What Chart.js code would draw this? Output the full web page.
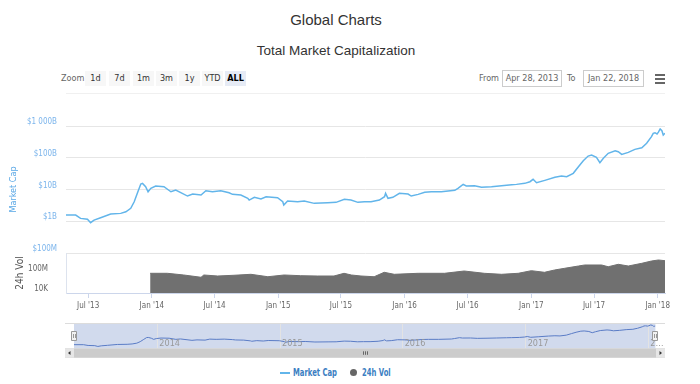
<!DOCTYPE html>
<html>
<head>
<meta charset="utf-8">
<script src="https://cdn.jsdelivr.net/npm/chart.js@4.4.1/dist/chart.umd.min.js"></script>
<style>
body { margin: 0; width: 700px; height: 384px; background: #fff; position: relative; overflow: hidden;
       font-family: "Liberation Sans", Arial, sans-serif; }
.abs { position: absolute; }
.narrow { font-family: "Liberation Sans Narrow", "DejaVu Sans Condensed", sans-serif; }
#title { left: 0; width: 672px; top: 11px; text-align: center; font-size: 15px; color: #333; }
#subtitle { left: 0; width: 672px; top: 43px; text-align: center; font-size: 13.5px; color: #333; }
.lbl { top: 72px; font-size: 9px; color: #666; line-height: 13px; }
.btn { top: 71px; width: 21px; height: 15px; line-height: 15px; background: #f7f7f7; text-align: center;
       font-size: 9px; color: #333; }
.btn.on { background: #e6ebf5; font-weight: bold; color: #000; }
.inp { top: 70px; height: 15px; line-height: 15px; border: 1px solid #ccc; font-size: 9px; color: #666;
       text-align: center; }
#ham { left: 655px; top: 74px; width: 10px; }
#ham div { height: 2px; background: #666; margin-bottom: 2px; }
#sep { left: 66px; top: 93px; width: 599px; height: 1px; background: #f0f0f0; }
#legend { top: 365px; left: 0; width: 700px; height: 16px; font-size: 10px; font-weight: bold; color: #3b7ec2; }
#legend .txt { transform: scaleX(0.76); transform-origin: 0 0; white-space: nowrap; }
</style>
</head>
<body>
<div id="title" class="abs">Global Charts</div>
<div id="subtitle" class="abs">Total Market Capitalization</div>

<div class="abs lbl narrow" style="left:61px">Zoom</div>
<div class="abs btn narrow" style="left:85px">1d</div>
<div class="abs btn narrow" style="left:109px">7d</div>
<div class="abs btn narrow" style="left:133px">1m</div>
<div class="abs btn narrow" style="left:156px">3m</div>
<div class="abs btn narrow" style="left:179px">1y</div>
<div class="abs btn narrow" style="left:202px">YTD</div>
<div class="abs btn narrow on" style="left:225px">ALL</div>

<div class="abs lbl narrow" style="left:479px">From</div>
<div class="abs inp narrow" style="left:502px;width:58px">Apr 28, 2013</div>
<div class="abs lbl narrow" style="left:567px">To</div>
<div class="abs inp narrow" style="left:583px;width:59px">Jan 22, 2018</div>
<div id="ham" class="abs"><div></div><div></div><div></div></div>
<div id="sep" class="abs"></div>

<div class="abs" style="left:0;top:100px;width:700px;height:215px"><canvas id="mainChart" width="700" height="215"></canvas></div>
<div class="abs" style="left:0;top:320px;width:700px;height:40px"><canvas id="navChart" width="700" height="40"></canvas></div>

<div id="legend" class="abs narrow">
  <div class="abs" style="left:280px;top:7px;width:10px;height:2px;background:#62b5ea"></div>
  <div class="abs txt" style="left:293px;top:2px">Market Cap</div>
  <div class="abs" style="left:350px;top:4px;width:7px;height:7px;border-radius:50%;background:#666"></div>
  <div class="abs txt" style="left:362px;top:2px">24h Vol</div>
</div>

<script>
// Total market cap, billions USD
var mcapDates = ['2013-04-28', '2013-05-26', '2013-06-09', '2013-06-29', '2013-07-08', '2013-07-18', '2013-08-06',
    '2013-09-04', '2013-10-03', '2013-10-18', '2013-11-01', '2013-11-11', '2013-11-20', '2013-11-30', '2013-12-05',
    '2013-12-14', '2013-12-21', '2013-12-29', '2014-01-12', '2014-02-05', '2014-02-25', '2014-03-11', '2014-04-14',
    '2014-04-29', '2014-05-23', '2014-06-06', '2014-06-25', '2014-07-19', '2014-08-12', '2014-08-22', '2014-09-15',
    '2014-10-05', '2014-10-09', '2014-10-24', '2014-11-12', '2014-11-27', '2014-12-30', '2015-01-14', '2015-01-17',
    '2015-01-28', '2015-02-26', '2015-03-17', '2015-04-15', '2015-05-24', '2015-06-17', '2015-07-11', '2015-07-30',
    '2015-08-19', '2015-09-07', '2015-09-26', '2015-10-20', '2015-11-04', '2015-11-07', '2015-11-14', '2015-11-28',
    '2015-12-17', '2016-01-11', '2016-01-20', '2016-02-09', '2016-02-28', '2016-03-18', '2016-04-16', '2016-05-25',
    '2016-06-03', '2016-06-18', '2016-06-27', '2016-07-21', '2016-08-10', '2016-09-08', '2016-10-07', '2016-11-05',
    '2016-11-19', '2016-12-13', '2016-12-28', '2017-01-06', '2017-01-16', '2017-02-09', '2017-03-10', '2017-03-29',
    '2017-04-13', '2017-05-02', '2017-05-17', '2017-05-31', '2017-06-14', '2017-06-24', '2017-07-08', '2017-07-18',
    '2017-07-28', '2017-08-11', '2017-08-31', '2017-09-09', '2017-09-19', '2017-10-08', '2017-10-27', '2017-11-16',
    '2017-11-30', '2017-12-14', '2017-12-19', '2017-12-24', '2017-12-30', '2018-01-03', '2018-01-08', '2018-01-13',
    '2018-01-17', '2018-01-22'];
var mcapValues = [1.57, 1.57, 1.23, 1.15, 0.90, 1.09, 1.29,
    1.69, 1.77, 1.99, 2.55, 4.11, 7.57, 14.9, 15.6,
    12.2, 8.5, 10.9, 12.9, 12.2, 8.5, 9.62, 6.22,
    7.19, 6.69, 9.15, 8.5, 9.15, 7.9, 7.03, 6.69,
    5.26, 4.65, 5.66, 5.0, 5.91, 5.5, 4.11, 3.24,
    4.33, 4.11, 4.33, 3.66, 3.83, 3.94, 4.89, 4.65,
    3.94, 4.11, 4.11, 4.65, 5.91, 7.57, 5.26, 5.66,
    7.57, 7.19, 6.22, 7.03, 8.13, 8.5, 8.5, 9.42,
    10.9, 14.5, 12.9, 13.1, 11.7, 12.2, 13.1, 14.1,
    14.5, 15.6, 17.6, 20.9, 16.3, 19.4, 24.2, 26.5,
    25.2, 32.3, 52.1, 80.5, 113, 122, 103, 69.7,
    95.9, 138, 167, 155, 128, 148, 184, 207,
    285, 460, 589, 615, 560, 640, 804, 711,
    520, 589];

// 24h volume, millions USD
var volDates = ['2013-12-27', '2014-02-15', '2014-04-03', '2014-05-23', '2014-05-31', '2014-07-10', '2014-08-26',
    '2014-10-14', '2014-12-02', '2015-01-18', '2015-03-07', '2015-04-24', '2015-06-11', '2015-07-10', '2015-07-31',
    '2015-08-28', '2015-10-05', '2015-11-03', '2015-12-02', '2016-02-09', '2016-04-25', '2016-06-21', '2016-08-18',
    '2016-10-07', '2016-11-24', '2017-01-01', '2017-02-08', '2017-03-09', '2017-04-07', '2017-05-17', '2017-06-04',
    '2017-07-23', '2017-08-11', '2017-09-09', '2017-10-08', '2017-11-16', '2017-12-14', '2018-01-03', '2018-01-22'];
var volValues = [87, 87, 40, 14, 40, 25, 35,
    55, 18, 40, 29, 25, 25, 87, 40,
    25, 18, 138, 55, 87, 87, 251, 87,
    55, 87, 288, 138, 398, 871, 2500, 4000,
    4000, 1800, 5500, 2500, 8700, 25000, 40000, 29000];

var xTicks = ['2013-07-01', '2014-01-01', '2014-07-01', '2015-01-01', '2015-07-01', '2016-01-01', '2016-07-01',
    '2017-01-01', '2017-07-01', '2018-01-01'];
var xTickLabels = ["Jul '13", "Jan '14", "Jul '14", "Jan '15", "Jul '15", "Jan '16", "Jul '16", "Jan '17", "Jul '17", "Jan '18"];
var mcapTicks = [0.1, 1, 10, 100, 1000];
var mcapTickLabels = ['$100M', '$1B', '$10B', '$100B', '$1 000B'];
var volTicks = [0.01, 100];
var volTickLabels = ['10K', '100M'];
var navTicks = ['2014-01-01', '2015-01-01', '2016-01-01', '2017-01-01', '2018-01-01'];
var navTickLabels = ['2014', '2015', '2016', '2017', '2…'];

var NARROW = '"Liberation Sans Narrow", "DejaVu Sans Condensed", sans-serif';
var START = '2013-04-28', END = '2018-01-22';

function t(s) {
    return Date.parse(s + 'T00:00:00Z');
}
function points(dates, values) {
    return dates.map(function (d, i) { return { x: t(d), y: values[i] }; });
}
var mcapPoints = points(mcapDates, mcapValues);
var volPoints = points(volDates, volValues);

var chart_main = new Chart(document.getElementById('mainChart'), {
    type: 'line',
    data: {
        datasets: [{
            label: 'Market Cap',
            data: mcapPoints,
            yAxisID: 'y',
            borderColor: '#62b5ea',
            borderWidth: 1.5,
            pointRadius: 0,
            tension: 0,
        }, {
            label: '24h Vol',
            data: volPoints,
            yAxisID: 'y2',
            borderColor: '#707070',
            backgroundColor: '#707070',
            borderWidth: 1,
            pointRadius: 0,
            fill: 'start',
        }]
    },
    options: {
        responsive: false,
        animation: false,
        layout: { padding: { top: 26, right: 35, left: 0, bottom: 0 } },
        plugins: { legend: { display: false }, tooltip: { enabled: false } },
        scales: {
            x: {
                type: 'linear',
                min: t(START),
                max: t(END),
                afterBuildTicks: function (s) { s.ticks = xTicks.map(function (d) { return { value: t(d) }; }); },
                afterFit: function (s) { s.height = 22; },
                grid: { drawOnChartArea: false, color: '#ccd6eb', tickLength: 5 },
                border: { color: '#ccd6eb' },
                ticks: {
                    callback: function (v, i) { return xTickLabels[i]; },
                    color: '#666', font: { size: 8, family: NARROW }, padding: 3,
                    maxRotation: 0, autoSkip: false
                }
            },
            // volume pane first: left stacks are placed in reverse order, so this ends up at the bottom
            y2: {
                type: 'logarithmic',
                position: 'left',
                stack: 'panes',
                stackWeight: 40,
                min: 0.01,
                max: 1000000,
                afterBuildTicks: function (s) { s.ticks = volTicks.map(function (v) { return { value: v }; }); },
                afterFit: function (s) { s.width = 66; },
                grid: { display: false },
                border: { display: true, color: '#dde3ee' },
                ticks: {
                    callback: function (v, i) { return volTickLabels[i]; },
                    color: '#666', font: { size: 8, family: NARROW }, padding: 10, labelOffset: -4
                },
                title: { display: true, text: '24h Vol', color: '#555', font: { size: 10, family: NARROW }, padding: { top: 14 } }
            },
            y: {
                type: 'logarithmic',
                position: 'left',
                stack: 'panes',
                stackWeight: 127,
                min: 0.1,
                max: 1000,
                afterBuildTicks: function (s) { s.ticks = mcapTicks.map(function (v) { return { value: v }; }); },
                afterFit: function (s) { s.width = 66; },
                grid: { color: '#e6e6e6', drawTicks: false },
                border: { display: false },
                ticks: {
                    callback: function (v, i) { return mcapTickLabels[i]; },
                    color: '#7cb5ec', font: { size: 8, family: NARROW }, padding: 9, labelOffset: -4
                },
                title: { display: true, text: 'Market Cap', color: '#5aa8e6', font: { size: 9, family: NARROW }, padding: { top: 8 } }
            }
        }
    }
});

// navigator decorations: mask, outline, year labels, handles and scrollbar
var navDecor = {
    id: 'navDecor',
    beforeDraw: function (chart) {
        var ctx = chart.ctx, a = chart.chartArea;
        ctx.save();
        ctx.fillStyle = 'rgba(102,133,194,0.3)';
        ctx.fillRect(a.left, a.top, a.right - a.left, a.bottom - a.top);
        ctx.restore();
    },
    afterDraw: function (chart) {
        var ctx = chart.ctx, a = chart.chartArea, xs = chart.scales.x;
        var left = 65, right = 665;
        ctx.save();
        // top outline
        ctx.fillStyle = '#dcdcdc';
        ctx.fillRect(left, a.top - 1, right - left, 1);
        // year labels
        ctx.fillStyle = '#999';
        ctx.font = '9px ' + NARROW;
        ctx.textBaseline = 'alphabetic';
        navTicks.forEach(function (d, i) {
            ctx.fillText(navTickLabels[i], xs.getPixelForValue(t(d)) + 2, a.bottom - 2);
        });
        // scrollbar
        var sy = a.bottom, sh = 9.5;
        ctx.fillStyle = '#cccccc';
        ctx.fillRect(left, sy, right - left, sh);
        ctx.fillStyle = '#e6e6e6';
        ctx.fillRect(left, sy, 9, sh);
        ctx.fillRect(right - 9, sy, 9, sh);
        ctx.fillStyle = '#333';
        ctx.beginPath();
        ctx.moveTo(left + 3, sy + sh / 2); ctx.lineTo(left + 5.5, sy + sh / 2 - 2); ctx.lineTo(left + 5.5, sy + sh / 2 + 2);
        ctx.closePath(); ctx.fill();
        ctx.beginPath();
        ctx.moveTo(right - 3, sy + sh / 2); ctx.lineTo(right - 5.5, sy + sh / 2 - 2); ctx.lineTo(right - 5.5, sy + sh / 2 + 2);
        ctx.closePath(); ctx.fill();
        // grip
        var gx = (left + right) / 2;
        ctx.fillStyle = '#666';
        [-2, 0, 2].forEach(function (o) { ctx.fillRect(Math.round(gx + o), sy + 3, 1, 3.5); });
        // handles
        [a.left, a.right].forEach(function (hx) {
            ctx.fillStyle = '#f2f2f2';
            ctx.strokeStyle = '#999';
            ctx.lineWidth = 1;
            ctx.beginPath();
            ctx.rect(Math.round(hx) - 2.5, a.top + 7.5, 5, 9);
            ctx.fill(); ctx.stroke();
            ctx.fillStyle = '#999';
            ctx.fillRect(Math.round(hx) - 1, a.top + 10, 1, 4);
            ctx.fillRect(Math.round(hx) + 1, a.top + 10, 1, 4);
        });
        ctx.restore();
    }
};

var chart_nav = new Chart(document.getElementById('navChart'), {
    type: 'line',
    data: {
        datasets: [{
            label: 'Navigator',
            data: mcapPoints,
            borderColor: '#5a7cc6',
            borderWidth: 1,
            pointRadius: 0,
        }]
    },
    options: {
        responsive: false,
        animation: false,
        layout: { padding: { left: 74, right: 44.6, top: 4, bottom: 11.7 } },
        plugins: { legend: { display: false }, tooltip: { enabled: false } },
        scales: {
            x: {
                type: 'linear',
                min: t(START),
                max: t(END),
                afterBuildTicks: function (s) { s.ticks = navTicks.map(function (d) { return { value: t(d) }; }); },
                afterFit: function (s) { s.height = 0; },
                grid: { color: '#e3e3e3', drawTicks: false },
                border: { display: false },
                ticks: { display: false }
            },
            y: { type: 'logarithmic', display: false, min: 0.5, max: 1100 }
        }
    },
    plugins: [navDecor]
});
</script>
</body>
</html>
